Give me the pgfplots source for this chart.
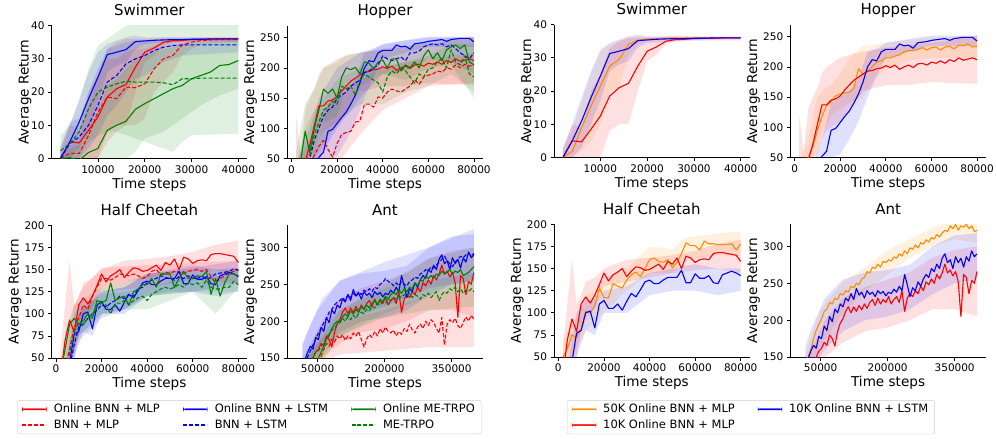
\documentclass[border=0pt]{standalone}
\usepackage{pgfplots}
\pgfplotsset{compat=1.18}
\usepackage{pgfplotstable}
\usepgfplotslibrary{fillbetween}
\usepackage{fontspec}
\setmainfont{DejaVu Sans}
\definecolor{mred}{RGB}{255,0,0}
\definecolor{mblue}{RGB}{0,0,255}
\definecolor{mgreen}{RGB}{0,128,0}
\definecolor{morange}{RGB}{255,140,0}
\definecolor{lgray}{RGB}{204,204,204}
\tikzset{dsh/.style={dash pattern=on 4pt off 2pt}}

% ---------------- Swimmer ----------------
\pgfplotstableread{
x y
2000 0
4000 5
6000 4.7
8000 8.5
10000 12.5
12000 18.5
14000 21
16000 22.3
18000 27.5
20000 32
22000 33.3
24000 35
26000 35.5
28000 35.6
30000 35.8
32000 35.9
34000 35.9
36000 36
38000 36
40000 36
}\swRs
\pgfplotstableread{
x y
2000 0
4000 1.5
6000 1.5
8000 7
10000 14
12000 18.5
14000 18
16000 21.5
18000 21.3
20000 22.5
22000 27
24000 30
26000 31
28000 34.2
30000 35
32000 35.5
34000 35.7
36000 35.8
38000 35.8
40000 35.8
}\swRd
\pgfplotstableread{
x y
2000 0
4000 5
6000 11
8000 18
10000 24.5
12000 31.3
14000 32
16000 32.8
18000 35.2
20000 35.4
22000 35.6
24000 35.7
26000 35.8
28000 35.8
30000 35.9
32000 35.9
34000 36
36000 36
38000 36
40000 36
}\swBs
\pgfplotstableread{
x y
2000 0
4000 4.5
6000 6.5
8000 10
10000 16
12000 23
14000 25
16000 28.5
18000 30
20000 31
22000 32.5
24000 33.5
26000 34
28000 34.2
30000 34.2
32000 34.2
34000 34.2
36000 34.2
38000 34.2
40000 34.2
}\swBd
\pgfplotstableread{
x y
2000 0
4000 0.2
6000 -0.5
8000 1.8
10000 3
12000 8.5
14000 10
16000 11.2
18000 14.8
20000 16.5
22000 18
24000 19.5
26000 21
28000 22
30000 24
32000 25
34000 26
36000 28
38000 28.3
40000 29.5
}\swGs
\pgfplotstableread{
x y
2000 2.3
4000 4.5
6000 8
8000 15
10000 20
12000 21.5
14000 22.5
16000 23.2
18000 23
20000 23
22000 23
24000 22.8
26000 22.2
28000 24
30000 24
32000 24.2
34000 24.2
36000 24.2
38000 24.2
40000 24.2
}\swGd
\pgfplotstableread{
x y
2000 0
4000 1.8
6000 9
8000 15.5
10000 21.5
12000 27.5
14000 29.5
16000 34
18000 35.3
20000 35.7
22000 35.8
24000 35.9
26000 35.9
28000 36
30000 36
32000 36
34000 36
36000 36
38000 36
40000 36
}\swO
\pgfplotstableread{
x lo hi
2000 0 2
4000 0 10
6000 0 9
8000 0 20
10000 0 25
12000 8 33
14000 10 35
16000 10 36
18000 20 36
20000 29 36
22000 31 36
24000 34 36.5
26000 35 36.5
30000 35.5 36.3
40000 35.7 36.2
}\swRsB
\pgfplotstableread{
x lo hi
2000 0 1
4000 0 4
6000 0 6
8000 0 16
10000 0 25
12000 5 30
14000 8 30
16000 10 32
18000 10 33
20000 12 33
22000 20 34
24000 23 35
26000 26 36
28000 31 36
30000 33 36.5
32000 34.5 36.5
40000 35 36.5
}\swRdB
\pgfplotstableread{
x lo hi
2000 0 3
4000 0 10
6000 3 18
8000 10 26
10000 17 32
12000 26 34.5
14000 28 35.5
16000 29 36.5
18000 33 37
20000 34.5 36.5
30000 35.2 36.5
40000 35.3 36.5
}\swBsB
\pgfplotstableread{
x lo hi
2000 0 4
4000 0 11
6000 0 12
8000 3 20
10000 7 27
12000 13 33
14000 16 34
16000 20 35
18000 24 35.5
20000 25 35.5
24000 29 36
28000 31 36
40000 32 36.2
}\swBdB
\pgfplotstableread{
x lo hi
2000 0 1
4000 0 3
6000 0 4
8000 0 10
10000 0 14
12000 0 22
14000 0 24
16000 0 27
18000 2 30
20000 6 31
24000 8 33
28000 12 34
32000 16 35
36000 19 35.5
40000 21 36
}\swGsB
\pgfplotstableread{
x lo hi
2000 0 7
4000 0 10
6000 0 17
8000 5 27
10000 7 34
12000 8 36
14000 8 38
16000 7 40
20000 5 41
24000 3 41
26000 2 41
28000 5 41
30000 7 41
40000 7.5 41
}\swGdB
\pgfplotstableread{
x lo hi
2000 0 3
4000 0 8
6000 2 17
8000 5 25
10000 10 33
12000 20 34
14000 21 35
16000 31 36
18000 34 36.5
20000 35.3 36.3
40000 35.7 36.2
}\swOB

% ---------------- Hopper ----------------
\pgfplotstableread{
x y
2000 10
4000 30
6000 45
8000 72
10000 105
12000 137
14000 137
16000 145
18000 147
20000 152
22000 162
24000 170
26000 178
28000 183
30000 188
32000 193
34000 194
36000 197
38000 198
40000 202
42000 199
44000 203
46000 196
48000 200
50000 203
52000 199
54000 205
56000 206
58000 203
60000 208
62000 206
64000 210
66000 206
68000 212
70000 209
72000 215
74000 211
76000 213
78000 215
80000 212
}\hoRs
\pgfplotstableread{
x y
2000 10
4000 15
6000 20
8000 25
10000 35
12000 52
14000 60
16000 95
18000 98
20000 108
22000 118
24000 127
26000 140
28000 155
30000 175
32000 200
34000 212
36000 210
38000 225
40000 229
42000 229
44000 229
46000 238
48000 235
50000 236
52000 231
54000 240
56000 241
58000 242
60000 244
62000 245
64000 246
66000 247
68000 244
70000 247
72000 248
74000 249
76000 249
78000 249
80000 243
}\hoBs
\pgfplotstableread{
x y
2000 10
4000 30
6000 50
8000 68
10000 95
12000 118
14000 136
16000 142
18000 152
20000 155
22000 157
24000 158
26000 165
28000 197
30000 188
32000 192
34000 200
36000 208
38000 210
40000 215
42000 215
44000 218
46000 220
48000 225
50000 227
52000 227
54000 229
56000 232
58000 228
60000 232
62000 233
64000 228
66000 233
68000 234
70000 230
72000 236
74000 235
76000 238
78000 233
80000 234
}\hoO
\pgfplotstableread{
x y
2000 10
4000 20
6000 30
8000 42
10000 55
12000 70
14000 80
16000 65
18000 52
20000 75
22000 90
24000 93
26000 95
28000 110
30000 112
32000 140
34000 140
36000 135
38000 152
40000 150
42000 160
44000 165
46000 162
48000 160
50000 165
52000 170
54000 180
56000 173
58000 185
60000 188
62000 190
64000 195
66000 193
68000 200
70000 198
72000 205
74000 200
76000 206
78000 203
80000 205
}\hoRd
\pgfplotstableread{
x y
2000 10
4000 20
6000 35
8000 50
10000 80
12000 100
14000 120
16000 130
18000 135
20000 150
22000 155
24000 160
26000 170
28000 175
30000 180
32000 192
34000 195
36000 200
38000 205
40000 220
42000 215
44000 212
46000 215
48000 218
50000 212
52000 225
54000 225
56000 228
58000 235
60000 238
62000 240
64000 238
66000 240
68000 235
70000 238
72000 232
74000 225
76000 220
78000 215
80000 225
}\hoBd
\pgfplotstableread{
x y
2000 20
4000 45
6000 95
8000 60
10000 100
12000 130
14000 165
16000 158
18000 165
20000 150
22000 185
24000 200
26000 197
28000 201
30000 190
32000 210
34000 208
36000 198
38000 210
40000 213
42000 200
44000 215
46000 215
48000 195
50000 205
52000 200
54000 210
56000 200
58000 220
60000 230
62000 215
64000 225
66000 212
68000 230
70000 235
72000 238
74000 232
76000 238
78000 210
80000 205
}\hoGs
\pgfplotstableread{
x y
2000 10
4000 30
6000 45
8000 55
10000 90
12000 110
14000 130
16000 135
18000 145
20000 140
22000 170
24000 165
26000 170
28000 155
30000 180
32000 190
34000 185
36000 180
38000 175
40000 160
42000 185
44000 195
46000 190
48000 200
50000 195
52000 185
54000 175
56000 190
58000 185
60000 198
62000 200
64000 210
66000 215
68000 200
70000 230
72000 210
74000 205
76000 220
78000 190
80000 185
}\hoGd
\pgfplotstableread{
x lo hi
2000 20 120
4000 30 60
6000 40 130
8000 50 150
10000 55 165
12000 80 190
14000 95 200
16000 100 205
20000 110 215
24000 130 220
30000 160 225
40000 170 232
50000 170 236
60000 175 240
70000 173 245
80000 172 252
}\hoRsB
\pgfplotstableread{
x lo hi
2000 20 40
4000 30 60
6000 40 80
8000 50 120
10000 60 150
12000 90 160
16000 120 170
20000 130 190
24000 140 215
30000 150 235
36000 185 238
40000 195 240
50000 210 245
60000 215 248
80000 215 252
}\hoOB
\pgfplotstableread{
x lo hi
2000 0 20
8000 10 40
12000 30 80
16000 50 140
20000 55 150
24000 80 160
28000 110 180
32000 150 225
36000 185 230
40000 215 240
50000 225 246
60000 235 252
80000 235 252
}\hoBsB
\pgfplotstableread{
x lo hi
2000 0 40
8000 20 80
12000 30 120
20000 40 160
30000 90 180
40000 130 200
50000 150 210
60000 170 215
80000 175 225
}\hoRdB
\pgfplotstableread{
x lo hi
2000 0 40
8000 20 100
12000 50 150
20000 100 200
30000 150 225
40000 190 238
50000 195 245
60000 215 250
70000 210 250
80000 190 250
}\hoBdB
\pgfplotstableread{
x lo hi
2000 0 60
6000 50 140
10000 60 165
14000 110 200
20000 120 210
24000 170 222
30000 170 225
40000 190 230
50000 180 235
60000 200 245
70000 205 250
80000 150 250
}\hoGsB
\pgfplotstableread{
x lo hi
2000 0 40
6000 20 100
10000 50 130
20000 110 180
30000 140 200
40000 140 200
50000 160 210
60000 170 220
70000 190 240
80000 160 240
}\hoGdB

% ---------------- Half Cheetah ----------------
\pgfplotstableread{
x y
2000 30
4000 70
6000 93
8000 79
10000 110
12000 118
14000 111
16000 120
18000 132
20000 145
22000 136
24000 143
26000 146
28000 150
30000 141
32000 147
34000 152
36000 151
38000 148
40000 149
42000 152
44000 155
46000 149
48000 158
50000 155
52000 162
54000 150
56000 164
58000 162
60000 157
62000 160
64000 161
66000 160
68000 167
70000 168
72000 168
74000 167
76000 166
78000 165
80000 158
}\hcRs
\pgfplotstableread{
x y
2000 50
4000 60
6000 75
8000 72
10000 82
12000 102
14000 100
16000 108
18000 128
20000 117
22000 117
24000 133
26000 130
28000 128
30000 137
32000 143
34000 146
36000 141
38000 150
40000 160
42000 162
44000 158
46000 157
48000 160
50000 151
52000 157
54000 167
56000 179
58000 176
60000 176
62000 171
64000 181
66000 178
68000 178
70000 177
72000 177
74000 177
76000 178
78000 171
80000 178
}\hcO
\pgfplotstableread{
x y
2000 10
4000 25
6000 45
8000 77
10000 80
12000 100
14000 102
16000 83
18000 110
20000 114
22000 105
24000 105
26000 110
28000 103
30000 113
32000 122
34000 118
36000 126
38000 135
40000 137
42000 133
44000 133
46000 137
48000 140
50000 140
52000 140
54000 148
56000 134
58000 134
60000 144
62000 139
64000 139
66000 142
68000 134
70000 133
72000 143
74000 145
76000 147
78000 145
80000 142
}\hcBs
\pgfplotstableread{
x y
2000 20
4000 40
6000 60
8000 85
10000 95
12000 110
14000 105
16000 120
18000 130
20000 140
22000 140
24000 138
26000 141
28000 145
30000 144
32000 143
34000 145
36000 143
38000 140
40000 142
42000 148
44000 150
46000 144
48000 147
50000 146
52000 148
54000 147
56000 145
58000 148
60000 149
62000 150
64000 148
66000 150
68000 142
70000 135
72000 140
74000 143
76000 146
78000 148
80000 150
}\hcRd
\pgfplotstableread{
x y
2000 10
4000 25
6000 40
8000 65
10000 85
12000 88
14000 95
16000 100
18000 104
20000 110
22000 108
24000 112
26000 115
28000 120
30000 117
32000 122
34000 120
36000 128
38000 130
40000 135
42000 138
44000 140
46000 143
48000 141
50000 140
52000 138
54000 142
56000 140
58000 143
60000 140
62000 140
64000 143
66000 139
68000 141
70000 145
72000 146
74000 147
76000 148
78000 151
80000 149
}\hcBd
\pgfplotstableread{
x y
2000 30
4000 60
6000 88
8000 95
10000 88
12000 92
14000 100
16000 95
18000 115
20000 113
22000 115
24000 135
26000 115
28000 118
30000 120
32000 110
34000 125
36000 128
38000 133
40000 133
42000 140
44000 130
46000 145
48000 145
50000 145
52000 130
54000 140
56000 148
58000 140
60000 140
62000 143
64000 142
66000 148
68000 122
70000 140
72000 120
74000 135
76000 145
78000 145
80000 143
}\hcGs
\pgfplotstableread{
x y
2000 20
4000 35
6000 55
8000 80
10000 90
12000 88
14000 95
16000 100
18000 108
20000 112
22000 110
24000 100
26000 112
28000 112
30000 115
32000 110
34000 115
36000 118
38000 120
40000 115
42000 122
44000 125
46000 128
48000 130
50000 128
52000 130
54000 133
56000 130
58000 135
60000 133
62000 135
64000 130
66000 138
68000 130
70000 128
72000 128
74000 130
76000 130
78000 137
80000 133
}\hcGd
\pgfplotstableread{
x lo hi
2000 20 60
4000 50 110
6000 50 160
8000 50 110
10000 80 120
12000 95 135
16000 105 140
20000 130 150
30000 135 160
40000 140 162
50000 145 165
60000 148 170
70000 150 178
80000 145 183
}\hcRsB
\pgfplotstableread{
x lo hi
2000 30 70
4000 45 80
8000 60 95
12000 80 120
16000 90 125
20000 100 140
30000 125 150
40000 145 175
50000 145 172
56000 160 185
70000 165 190
80000 165 192
}\hcOB
\pgfplotstableread{
x lo hi
4000 20 40
8000 50 100
12000 80 115
16000 75 115
20000 100 125
30000 100 130
40000 120 145
50000 125 150
60000 125 155
70000 120 150
80000 125 150
}\hcBsB
\pgfplotstableread{
x lo hi
4000 30 60
8000 60 110
12000 90 130
20000 125 152
40000 130 155
60000 138 158
80000 135 160
}\hcRdB
\pgfplotstableread{
x lo hi
6000 30 60
10000 70 100
20000 95 125
30000 105 130
40000 120 145
60000 125 152
80000 135 160
}\hcBdB
\pgfplotstableread{
x lo hi
4000 40 80
8000 70 110
20000 100 130
30000 105 135
40000 120 145
60000 125 150
70000 100 150
80000 130 152
}\hcGsB
\pgfplotstableread{
x lo hi
6000 40 70
10000 75 100
20000 100 122
30000 105 125
40000 105 130
60000 125 142
80000 125 142
}\hcGdB

% ---------------- Ant ----------------
\pgfplotstableread{
x y
16000 140
22000 148
28000 158
34000 166
40000 162
46000 178
52000 175
58000 192
64000 186
70000 205
76000 198
82000 215
88000 210
94000 222
100000 218
106000 230
112000 226
118000 236
124000 228
130000 243
136000 234
142000 238
148000 230
154000 240
160000 235
166000 238
172000 232
178000 240
184000 236
190000 239
196000 233
202000 238
208000 236
214000 242
220000 238
226000 246
232000 240
238000 262
244000 248
250000 232
256000 244
262000 240
268000 252
274000 246
280000 256
286000 262
292000 258
298000 270
304000 266
310000 276
316000 270
322000 284
328000 290
334000 278
340000 282
346000 270
352000 286
358000 278
364000 284
370000 272
376000 286
382000 280
388000 294
394000 286
400000 290
}\anBs
\pgfplotstableread{
x y
16000 120
22000 128
28000 135
34000 142
40000 150
46000 158
52000 162
58000 170
64000 166
70000 180
76000 175
82000 165
88000 185
94000 196
100000 202
106000 212
112000 218
118000 210
124000 218
130000 212
136000 220
142000 214
148000 222
154000 216
160000 224
166000 228
172000 220
178000 230
184000 222
190000 228
196000 224
202000 232
208000 222
214000 228
220000 232
226000 224
232000 240
238000 212
244000 230
250000 236
256000 232
262000 240
268000 236
274000 246
280000 240
286000 252
292000 248
298000 256
304000 250
310000 262
316000 256
322000 264
328000 276
334000 264
340000 268
346000 260
352000 266
358000 252
364000 205
370000 262
376000 258
382000 236
388000 254
394000 250
400000 266
}\anRs
\pgfplotstableread{
x y
16000 138
22000 150
28000 160
34000 175
40000 186
46000 194
52000 202
58000 212
64000 215
70000 224
76000 222
82000 230
88000 228
94000 236
100000 234
106000 240
112000 238
118000 246
124000 244
130000 250
136000 248
142000 256
148000 258
154000 266
160000 264
166000 272
172000 270
178000 276
184000 272
190000 280
196000 278
202000 282
208000 280
214000 286
220000 284
226000 290
232000 287
238000 294
244000 290
250000 298
256000 296
262000 302
268000 298
274000 305
280000 303
286000 309
292000 306
298000 312
304000 310
310000 316
316000 313
322000 318
328000 322
334000 320
340000 328
346000 324
352000 330
358000 322
364000 328
370000 326
376000 330
382000 324
388000 328
394000 320
400000 322
}\anO
\pgfplotstableread{
x y
16000 120
22000 125
28000 130
34000 135
40000 140
46000 145
52000 148
58000 152
64000 162
70000 170
76000 166
82000 176
88000 172
94000 180
100000 176
106000 182
112000 174
118000 180
124000 176
130000 184
136000 180
142000 186
148000 175
154000 165
160000 176
166000 182
172000 178
178000 186
184000 180
190000 190
196000 184
202000 192
208000 186
214000 184
220000 188
226000 180
232000 186
238000 182
244000 190
250000 186
256000 196
262000 188
268000 184
274000 192
280000 196
286000 190
292000 200
298000 194
304000 202
310000 198
316000 190
322000 184
328000 205
334000 168
340000 196
346000 202
352000 198
358000 204
364000 194
370000 190
376000 198
382000 206
388000 200
394000 208
400000 202
}\anRd
\pgfplotstableread{
x y
16000 135
22000 144
28000 152
34000 160
40000 168
46000 176
52000 184
58000 190
64000 198
70000 204
76000 212
82000 216
88000 222
94000 226
100000 228
106000 232
112000 228
118000 236
124000 232
130000 238
136000 234
142000 240
148000 236
154000 242
160000 240
166000 244
172000 240
178000 246
184000 244
190000 250
196000 252
202000 258
208000 254
214000 252
220000 248
226000 252
232000 248
238000 254
244000 250
250000 248
256000 254
262000 256
268000 260
274000 258
280000 264
286000 266
292000 270
298000 268
304000 274
310000 272
316000 276
322000 280
328000 284
334000 288
340000 282
346000 278
352000 274
358000 280
364000 284
370000 288
376000 286
382000 290
388000 292
394000 288
400000 292
}\anBd
\pgfplotstableread{
x y
16000 120
22000 126
28000 132
34000 138
40000 142
46000 146
52000 150
58000 158
64000 166
70000 176
76000 180
82000 190
88000 196
94000 200
100000 198
106000 206
112000 210
118000 206
124000 214
130000 210
136000 216
142000 212
148000 220
154000 216
160000 222
166000 218
172000 224
178000 228
184000 222
190000 230
196000 226
202000 234
208000 230
214000 236
220000 240
226000 236
232000 242
238000 238
244000 244
250000 240
256000 246
262000 244
268000 252
274000 248
280000 256
286000 254
292000 262
298000 258
304000 262
310000 258
316000 264
322000 262
328000 268
334000 264
340000 266
346000 270
352000 264
358000 268
364000 266
370000 270
376000 262
382000 264
388000 266
394000 270
400000 274
}\anGs
\pgfplotstableread{
x y
16000 125
22000 132
28000 140
34000 146
40000 152
46000 158
52000 160
58000 166
64000 170
70000 178
76000 182
82000 188
88000 190
94000 196
100000 198
106000 204
112000 200
118000 206
124000 202
130000 208
136000 204
142000 210
148000 212
154000 210
160000 216
166000 214
172000 220
178000 218
184000 224
190000 222
196000 226
202000 224
208000 230
214000 228
220000 232
226000 230
232000 234
238000 232
244000 236
250000 234
256000 238
262000 232
268000 236
274000 234
280000 230
286000 236
292000 234
298000 238
304000 232
310000 236
316000 240
322000 228
328000 236
334000 240
340000 238
346000 244
352000 242
358000 246
364000 240
370000 244
376000 238
382000 242
388000 240
394000 244
400000 240
}\anGd
\pgfplotstableread{
x lo hi
16000 115 165
30000 135 190
60000 160 230
100000 185 255
150000 200 265
200000 205 268
250000 215 275
300000 235 300
350000 250 315
400000 255 318
}\anBsB
\pgfplotstableread{
x lo hi
16000 100 140
40000 130 175
60000 150 200
100000 170 230
150000 185 245
200000 190 255
250000 200 265
300000 215 285
350000 215 295
400000 205 300
}\anRsB
\pgfplotstableread{
x lo hi
16000 120 155
30000 145 180
50000 165 215
100000 210 252
150000 240 272
200000 262 295
250000 285 310
300000 300 325
350000 310 335
400000 305 335
}\anOB
\pgfplotstableread{
x lo hi
16000 100 140
50000 140 170
100000 155 200
200000 160 215
300000 165 235
400000 165 245
}\anRdB
\pgfplotstableread{
x lo hi
16000 120 170
50000 165 215
100000 200 255
200000 220 280
300000 245 300
400000 255 325
}\anBdB
\pgfplotstableread{
x lo hi
16000 100 140
50000 135 170
100000 180 215
200000 210 250
300000 235 285
400000 245 300
}\anGsB
\pgfplotstableread{
x lo hi
16000 100 150
50000 145 185
100000 180 215
200000 205 245
300000 215 255
400000 220 265
}\anGdB

\newcommand{\band}[3]{%
  \addplot[draw=none, forget plot, name path=#1lo] table[x=x,y=lo]{#2};
  \addplot[draw=none, forget plot, name path=#1hi] table[x=x,y=hi]{#2};
  \addplot[fill=#3, fill opacity=0.12, draw=none, forget plot] fill between[of=#1lo and #1hi];
}
\newcommand{\curve}[2]{\addplot[#1, forget plot] table[x=x,y=y]{#2};}
% legend images: solid ones as thin filled bars, dashed ones stroked
\newcommand{\legsolid}[1]{\addlegendimage{legend image code/.code={%
  \fill[#1] (0pt,-0.55pt) rectangle (24pt,0.55pt);}}}
\newcommand{\legdash}[1]{\addlegendimage{legend image code/.code={%
  \draw[draw=#1, line width=1.1pt, dsh] (0pt,0pt) -- (24pt,0pt);}}}

\pgfplotsset{
  /pgf/number format/assume math mode=true,
  base/.style={
    scale only axis, width=196pt, height=133pt,
    axis lines*=left,
    axis line style={black, line width=0.8pt},
    tick align=outside, major tick length=3.5pt,
    tick style={black, line width=0.8pt},
    tick label style={font=\fontsize{10.5}{12}\selectfont},
    label style={font=\fontsize{13.6}{15}\selectfont},
    title style={font=\fontsize{15}{17}\selectfont, at={(0.5,1)}, anchor=base, yshift=4pt},
    xlabel={Time steps}, ylabel={Average Return},
    xlabel style={at={(axis description cs:0.5,-0.223)}, anchor=base},
    ylabel style={at={(axis description cs:-0.187,0.5)}, anchor=center},
    scaled x ticks=false, scaled y ticks=false,
    xticklabel style={/pgf/number format/fixed, /pgf/number format/1000 sep={}},
    yticklabel style={/pgf/number format/fixed, /pgf/number format/1000 sep={}},
    every axis plot/.append style={line width=1.1pt, line join=round},
  },
  swim/.style={base, xmin=100, xmax=41900, ymin=0, ymax=40,
    xtick={0,10000,20000,30000,40000}, ytick={0,10,20,30,40}, title={Swimmer},
    ylabel style={at={(axis description cs:-0.135,0.5)}}},
  hop/.style={base, xmin=-1900, xmax=83900, ymin=50, ymax=270,
    xtick={0,20000,40000,60000,80000}, ytick={50,100,150,200,250}, title={Hopper}},
  hch/.style={base, xmin=-1900, xmax=83900, ymin=50, ymax=200,
    xtick={0,20000,40000,60000,80000}, ytick={50,75,100,125,150,175,200}, title={Half Cheetah}},
  ant/.style={base, xmin=-17900, xmax=419900, ymin=150, ymax=330,
    xtick={50000,200000,350000}, ytick={150,200,250,300}, title={Ant}},
  legax/.style={hide axis, scale only axis, width=10pt, height=10pt,
    xmin=0, xmax=1, ymin=0, ymax=1, anchor=north west,
    legend style={at={(0,1)}, anchor=north west,
      draw=lgray, rounded corners=2pt, fill=white,
      font=\fontsize{11.5}{13}\selectfont, inner xsep=4.4pt, inner ysep=1.8pt,
      row sep=1.6pt,
      /tikz/every odd column/.append style={column sep=5pt},
      /tikz/every even column/.append style={column sep=21pt}},
    legend cell align=left,
  },
}

\begin{document}
\begin{tikzpicture}

% ===== Left: Swimmer =====
\begin{axis}[swim, at={(51.7pt,280.5pt)}, anchor=south west]
\band{a1}{\swRsB}{mred}
\band{a2}{\swRdB}{mred}
\band{a3}{\swBsB}{mblue}
\band{a4}{\swBdB}{mblue}
\band{a5}{\swGsB}{mgreen}
\band{a6}{\swGdB}{mgreen}
\curve{mred}{\swRs}
\curve{mred,dsh}{\swRd}
\curve{mblue}{\swBs}
\curve{mblue,dsh}{\swBd}
\curve{mgreen}{\swGs}
\curve{mgreen,dsh}{\swGd}
\end{axis}

% ===== Left: Hopper =====
\begin{axis}[hop, at={(287.7pt,280.5pt)}, anchor=south west]
\band{b1}{\hoRsB}{mred}
\band{b2}{\hoRdB}{mred}
\band{b3}{\hoBsB}{mblue}
\band{b4}{\hoBdB}{mblue}
\band{b5}{\hoGsB}{mgreen}
\band{b6}{\hoGdB}{mgreen}
\curve{mred}{\hoRs}
\curve{mred,dsh}{\hoRd}
\curve{mblue}{\hoBs}
\curve{mblue,dsh}{\hoBd}
\curve{mgreen}{\hoGs}
\curve{mgreen,dsh}{\hoGd}
\end{axis}

% ===== Left: Half Cheetah =====
\begin{axis}[hch, at={(51.7pt,80.5pt)}, anchor=south west]
\band{c1}{\hcRsB}{mred}
\band{c2}{\hcRdB}{mred}
\band{c3}{\hcBsB}{mblue}
\band{c4}{\hcBdB}{mblue}
\band{c5}{\hcGsB}{mgreen}
\band{c6}{\hcGdB}{mgreen}
\curve{mred}{\hcRs}
\curve{mred,dsh}{\hcRd}
\curve{mblue}{\hcBs}
\curve{mblue,dsh}{\hcBd}
\curve{mgreen}{\hcGs}
\curve{mgreen,dsh}{\hcGd}
\end{axis}

% ===== Left: Ant =====
\begin{axis}[ant, at={(287.7pt,80.5pt)}, anchor=south west]
\band{d1}{\anRsB}{mred}
\band{d2}{\anRdB}{mred}
\band{d3}{\anBsB}{mblue}
\band{d4}{\anBdB}{mblue}
\band{d5}{\anGsB}{mgreen}
\band{d6}{\anGdB}{mgreen}
\curve{mred}{\anRs}
\curve{mred,dsh}{\anRd}
\curve{mblue}{\anBs}
\curve{mblue,dsh}{\anBd}
\curve{mgreen}{\anGs}
\curve{mgreen,dsh}{\anGd}
\end{axis}

% ===== Right: Swimmer =====
\begin{axis}[swim, at={(555pt,281.5pt)}, anchor=south west]
\band{e1}{\swOB}{morange}
\band{e2}{\swRsB}{mred}
\band{e3}{\swBsB}{mblue}
\curve{morange}{\swO}
\curve{mred}{\swRs}
\curve{mblue}{\swBs}
\end{axis}

% ===== Right: Hopper =====
\begin{axis}[hop, at={(791.7pt,281.5pt)}, anchor=south west]
\band{f1}{\hoOB}{morange}
\band{f2}{\hoRsB}{mred}
\band{f3}{\hoBsB}{mblue}
\curve{morange}{\hoO}
\curve{mred}{\hoRs}
\curve{mblue}{\hoBs}
\end{axis}

% ===== Right: Half Cheetah =====
\begin{axis}[hch, at={(555pt,81.5pt)}, anchor=south west]
\band{g1}{\hcOB}{morange}
\band{g2}{\hcRsB}{mred}
\band{g3}{\hcBsB}{mblue}
\curve{morange}{\hcO}
\curve{mred}{\hcRs}
\curve{mblue}{\hcBs}
\end{axis}

% ===== Right: Ant =====
\begin{axis}[ant, at={(791.7pt,81.5pt)}, anchor=south west]
\band{h1}{\anOB}{morange}
\band{h2}{\anRsB}{mred}
\band{h3}{\anBsB}{mblue}
\curve{morange}{\anO}
\curve{mred}{\anRs}
\curve{mblue}{\anBs}
\end{axis}

% ===== Legends =====
\begin{axis}[legax, at={(17.3pt,38.3pt)}, legend columns=3]
\legsolid{mred}\addlegendentry{Online BNN + MLP}
\legsolid{mblue}\addlegendentry{Online BNN + LSTM}
\legsolid{mgreen}\addlegendentry{Online ME-TRPO}
\legdash{mred}\addlegendentry{BNN + MLP}
\legdash{mblue}\addlegendentry{BNN + LSTM}
\legdash{mgreen}\addlegendentry{ME-TRPO}
\end{axis}
\begin{axis}[legax, at={(568.3pt,38.3pt)}, legend columns=2]
\legsolid{morange}\addlegendentry{50K Online BNN + MLP}
\legsolid{mblue}\addlegendentry{10K Online BNN + LSTM}
\legsolid{mred}\addlegendentry{10K Online BNN + MLP}
\end{axis}
\path (0pt,0pt) rectangle (997pt,435pt);
\end{tikzpicture}
\end{document}
